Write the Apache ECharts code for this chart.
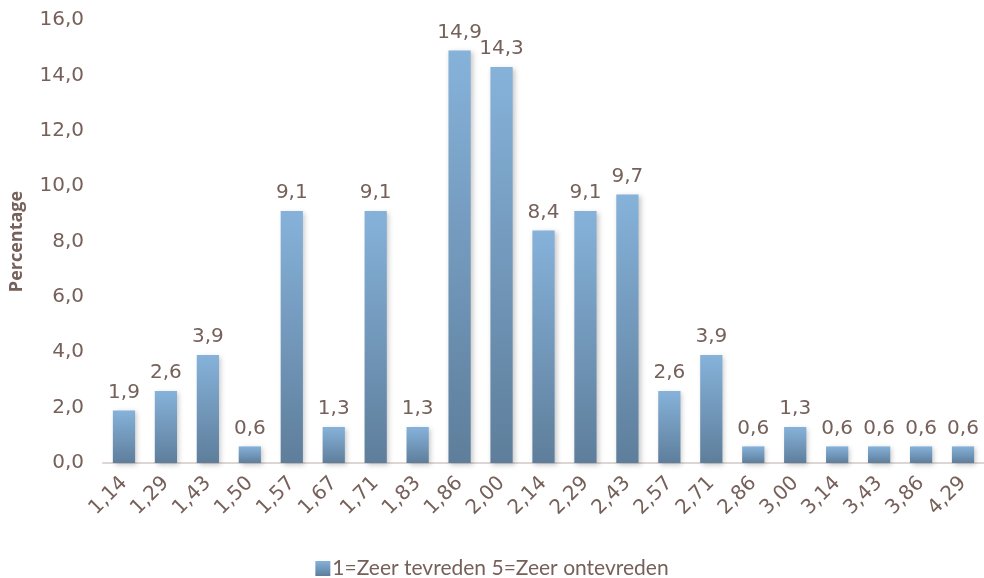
<!DOCTYPE html>
<html>
<head>
<meta charset="utf-8">
<script src="https://cdn.jsdelivr.net/npm/echarts@6/dist/echarts.min.js"></script>
<style>
  html, body { margin: 0; padding: 0; background: #fff; }
  #chart { width: 984px; height: 578px; }
</style>
</head>
<body>
<div id="chart"></div>
<script>
// Score categories (average satisfaction score)
const categories = ['1,14','1,29','1,43','1,50','1,57','1,67','1,71','1,83','1,86','2,00',
                    '2,14','2,29','2,43','2,57','2,71','2,86','3,00','3,14','3,43','3,86','4,29'];
// Percentage of respondents per score
const percentages = [1.9, 2.6, 3.9, 0.6, 9.1, 1.3, 9.1, 1.3, 14.9, 14.3,
                     8.4, 9.1, 9.7, 2.6, 3.9, 0.6, 1.3, 0.6, 0.6, 0.6, 0.6];
const seriesName = '1=Zeer tevreden 5=Zeer ontevreden';
const yAxisTitle = 'Percentage';

const textColor = '#76605A';
const axisFont = 'DejaVu Sans';
const dutch = v => Number(v).toFixed(1).replace('.', ',');

const barGradient = new echarts.graphic.LinearGradient(0, 0, 0, 1, [
  { offset: 0, color: '#86B2DA' },
  { offset: 1, color: '#5E7E9B' }
]);

const chart = echarts.init(document.getElementById('chart'), null, { renderer: 'canvas' });
chart.setOption({
  animation: false,
  backgroundColor: '#ffffff',
  grid: { left: 103, right: -4, top: 20, bottom: 115, containLabel: false },
  legend: {
    data: [seriesName],
    left: 'center',
    top: 553,
    icon: 'rect',
    itemWidth: 15,
    itemHeight: 15,
    itemGap: 6,
    textStyle: { color: textColor, fontFamily: 'Lato', fontSize: 21, padding: [0, 0, 0, -3] }
  },
  xAxis: {
    type: 'category',
    data: categories,
    axisLine: { lineStyle: { color: '#DCD6D4', width: 2 } },
    axisTick: { show: false },
    axisLabel: {
      color: textColor, fontFamily: axisFont, fontSize: 20,
      rotate: 45, margin: 17, interval: 0
    }
  },
  yAxis: {
    type: 'value',
    min: 0, max: 16, interval: 2,
    name: yAxisTitle,
    nameLocation: 'middle',
    nameGap: 77,
    nameRotate: 90,
    nameTextStyle: { color: textColor, fontFamily: 'Open Sans', fontWeight: 'bold', fontSize: 18 },
    axisLine: { show: false },
    axisTick: { show: false },
    splitLine: { show: false },
    axisLabel: {
      color: textColor, fontFamily: axisFont, fontSize: 20, margin: 19,
      formatter: v => dutch(v)
    }
  },
  series: [{
    name: seriesName,
    type: 'bar',
    data: percentages,
    barWidth: '53%',
    itemStyle: {
      color: barGradient,
      shadowColor: 'rgba(0,0,0,0.22)',
      shadowBlur: 5,
      shadowOffsetX: 2,
      shadowOffsetY: 2
    },
    label: {
      show: true,
      position: 'top',
      distance: 8,
      color: textColor,
      fontFamily: axisFont,
      fontSize: 20,
      formatter: p => dutch(p.value)
    }
  }]
});
</script>
</body>
</html>
